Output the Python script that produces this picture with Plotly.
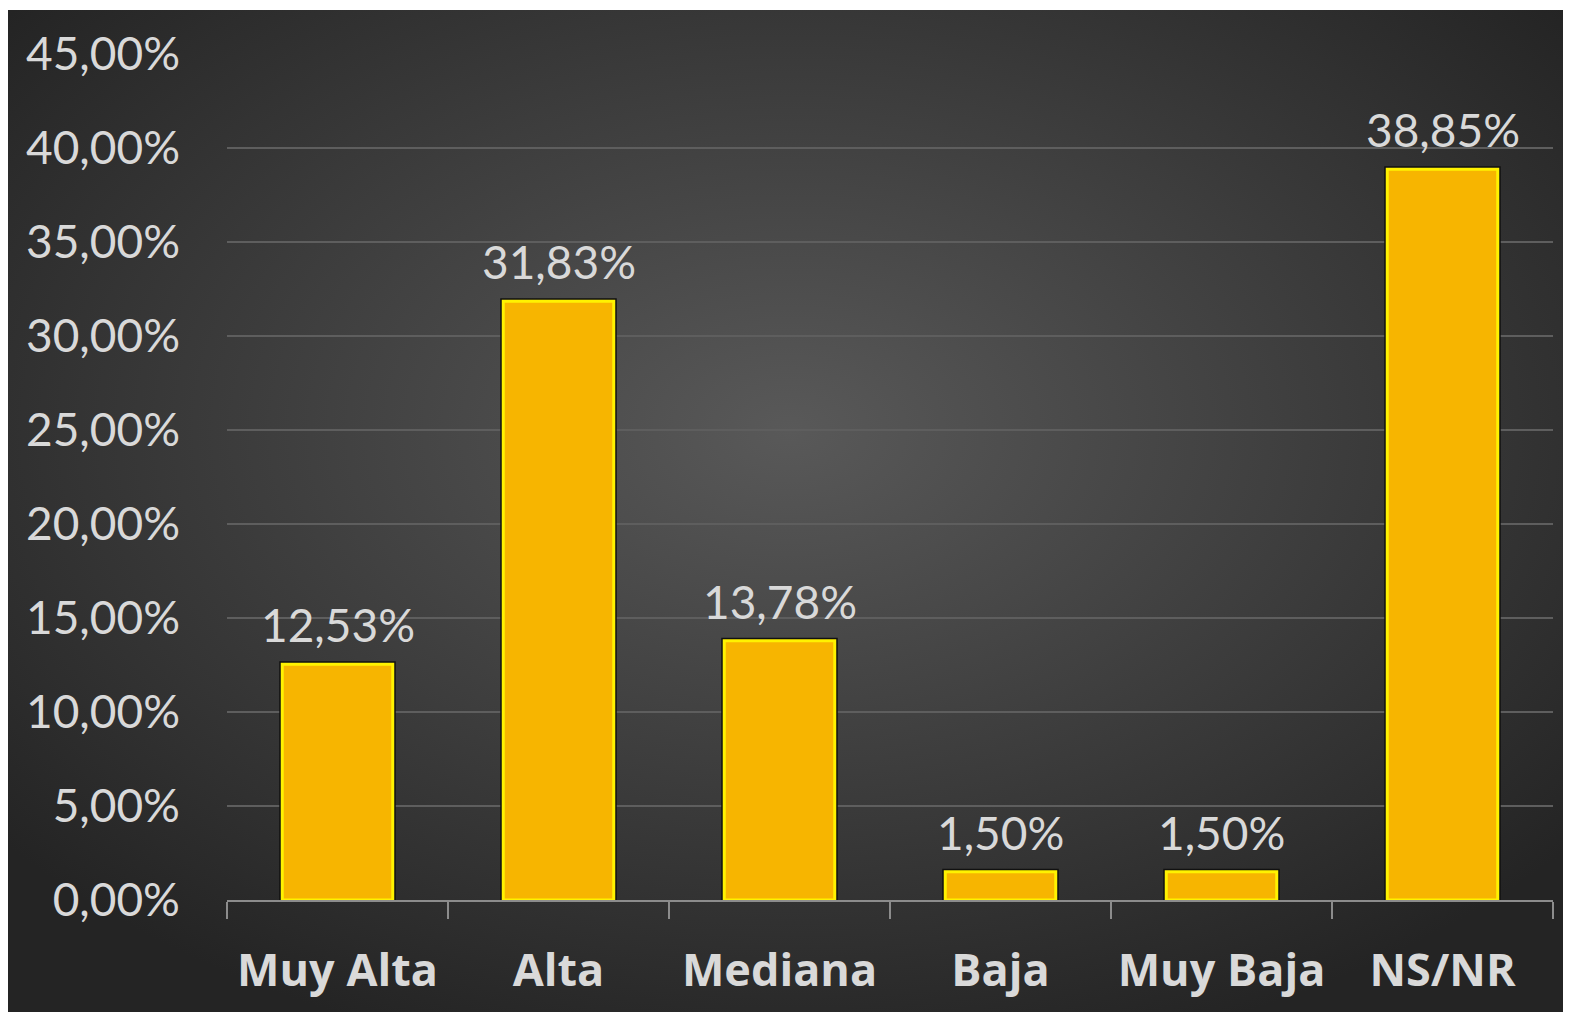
import base64
import plotly.graph_objects as go

categories = ["Muy Alta", "Alta", "Mediana", "Baja", "Muy Baja", "NS/NR"]
values = [12.53, 31.83, 13.78, 1.50, 1.50, 38.85]
labels = ["12,53%", "31,83%", "13,78%", "1,50%", "1,50%", "38,85%"]
y_ticks = [0, 5, 10, 15, 20, 25, 30, 35, 40, 45]
y_tick_text = ["0,00%", "5,00%", "10,00%", "15,00%", "20,00%", "25,00%", "30,00%", "35,00%", "40,00%", "45,00%"]

# figure is placed at page offset (8, 8) by the default body margin
W, H = 1563, 1004
L, R, T, B = 219, 18, 45, 112
pw, ph = W - L - R, H - T - B
IMG_TOP = 2

svg = """<svg xmlns='http://www.w3.org/2000/svg' width='1563' height='1002' preserveAspectRatio='none'>
<defs><radialGradient id='g' cx='50%' cy='42%' r='65%'>
<stop offset='0%' stop-color='#595959'/>
<stop offset='100%' stop-color='#242424'/>
</radialGradient></defs>
<rect width='1563' height='1002' fill='url(#g)'/></svg>"""
src = "data:image/svg+xml;base64," + base64.b64encode(svg.encode()).decode()

fig = go.Figure()
# outer dark outline
fig.add_trace(go.Bar(
    x=categories, y=values,
    marker=dict(color="#F7B500", line=dict(color="#111111", width=6)),
    hoverinfo="skip", showlegend=False,
))
# inner yellow bevel
fig.add_trace(go.Bar(
    x=categories, y=values,
    marker=dict(color="#F7B500", line=dict(color="#FFF200", width=3)),
    showlegend=False,
))

annotations = [
    dict(x=c, y=v, text=t, xref="x", yref="y", showarrow=False,
         yanchor="bottom", yshift=10,
         font=dict(family="Lato", size=46, color="#D9D9D9"))
    for c, v, t in zip(categories, values, labels)
]

fig.update_layout(
    width=W, height=H,
    margin=dict(l=L, r=R, t=T, b=B),
    paper_bgcolor="white",
    plot_bgcolor="rgba(0,0,0,0)",
    barmode="overlay",
    bargap=0.5,
    separators=", ",
    annotations=annotations,
    images=[dict(
        source=src, xref="paper", yref="paper",
        x=-L / pw, y=1 + (T - IMG_TOP) / ph,
        sizex=W / pw, sizey=(H - IMG_TOP) / ph,
        xanchor="left", yanchor="top", sizing="stretch", layer="below",
    )],
    xaxis=dict(
        type="category",
        showline=True, linecolor="#8C8C8C", linewidth=2,
        ticks="outside", tickson="boundaries", ticklen=17, tickwidth=2, tickcolor="#8C8C8C",
        showgrid=False,
        tickfont=dict(family="Open Sans", size=45, color="#D9D9D9", weight="bold"),
        ticklabelstandoff=30,
    ),
    yaxis=dict(
        range=[0, 45.03],
        tickvals=y_ticks, ticktext=y_tick_text,
        showgrid=True, gridcolor="#5E5E5E", gridwidth=2,
        zeroline=False, showline=False,
        tickfont=dict(family="Lato", size=46, color="#D9D9D9"),
        ticklabelstandoff=46,
    ),
)

fig.write_html("out.html")
